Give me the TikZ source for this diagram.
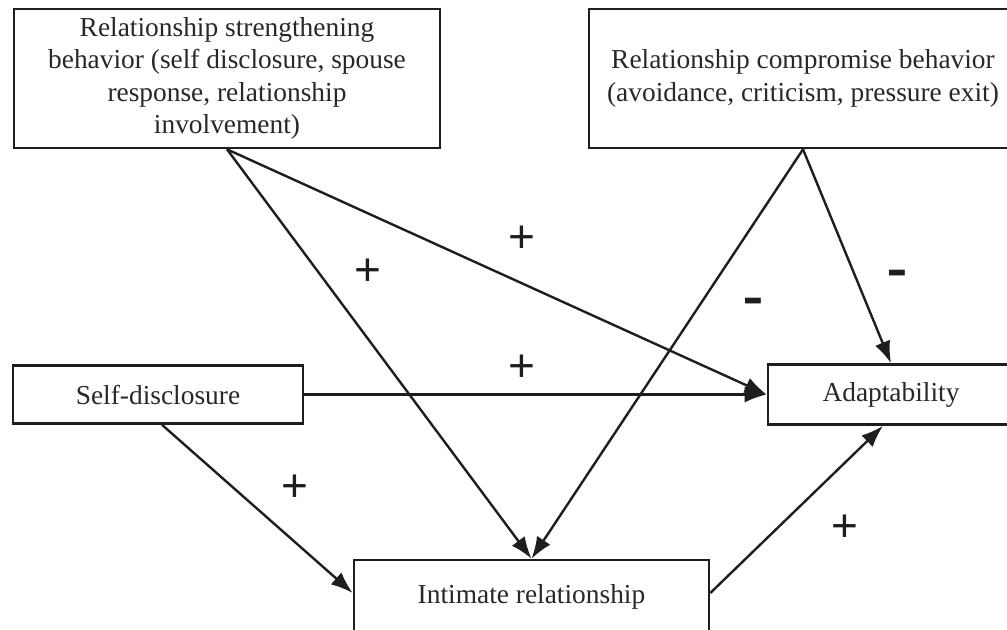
\documentclass[tikz,border=0pt]{standalone}
\usepackage{fontspec}
\setmainfont{Liberation Serif}
\newfontfamily\signfont{Liberation Sans}
\usepackage{xcolor}
\usetikzlibrary{arrows.meta, positioning}
\definecolor{inkcolor}{RGB}{30,30,30}
\definecolor{textcolor}{RGB}{40,40,40}

\tikzset{
    factor/.style={draw=inkcolor, line width=1.3pt, fill=white, align=center,
        text=textcolor, font=\fontsize{13.7}{16.2}\selectfont, inner sep=0pt},
    link/.style={draw=inkcolor, line width=1.2pt, -{Latex[length=11pt,width=8pt]}},
    sign/.style={text=inkcolor, font=\signfont\fontsize{23}{23}\selectfont, inner sep=0pt},
    minussign/.style={sign, font=\signfont\bfseries\fontsize{16}{16}\selectfont}
}

\begin{document}
\begin{tikzpicture}[x=0.5pt, y=-0.5pt]
    \useasboundingbox (0,0) rectangle (1007,629);
    \clip (0,0) rectangle (1007,629);

    % behaviour boxes
    \node[factor, minimum width=213pt, minimum height=69.5pt] (strength) at (227,78.5)
        {Relationship strengthening\\behavior (self disclosure, spouse\\response, relationship\\involvement)};
    \node[factor, minimum width=214pt, minimum height=69.5pt] (compromise) at (803,78.5)
        {Relationship compromise behavior\\(avoidance, criticism, pressure exit)};

    % outcomes
    \node[factor, minimum width=145pt, minimum height=29pt] (selfdis) at (158,394.5) {Self-disclosure};
    \node[factor, minimum width=123pt, minimum height=30pt] (adapt) at (891,394.5) {Adaptability};
    \node[factor, minimum width=177.5pt, minimum height=37pt] (intimate) at (531.5,597) {Intimate relationship};

    % paths
    \draw[link] (strength.south) -- (intimate.north);
    \draw[link] (strength.south) -- (adapt.west);
    \draw[link] (compromise.south) -- (intimate.north);
    \draw[link] (compromise.south) -- (adapt.north);
    \draw[link] (selfdis.east) -- (adapt.west);
    \draw[link] ([xshift=2pt]selfdis.south) -- ([yshift=2pt]intimate.west);
    \draw[link] ([yshift=2pt]intimate.east) -- ([xshift=-4pt]adapt.south);

    % signs
    \node[sign] (s1) at (368,272) {+};
    \node[sign] (s2) at (522,239) {+};
    \node[sign] (s3) at (522,368) {+};
    \node[sign] (s4) at (295,488) {+};
    \node[sign] (s5) at (845,528) {+};
    \node[minussign] (s6) at (753,307) {\scalebox{1}[1.8]{–}};
    \node[minussign] (s7) at (897,279) {\scalebox{1}[1.8]{–}};
\end{tikzpicture}
\end{document}
